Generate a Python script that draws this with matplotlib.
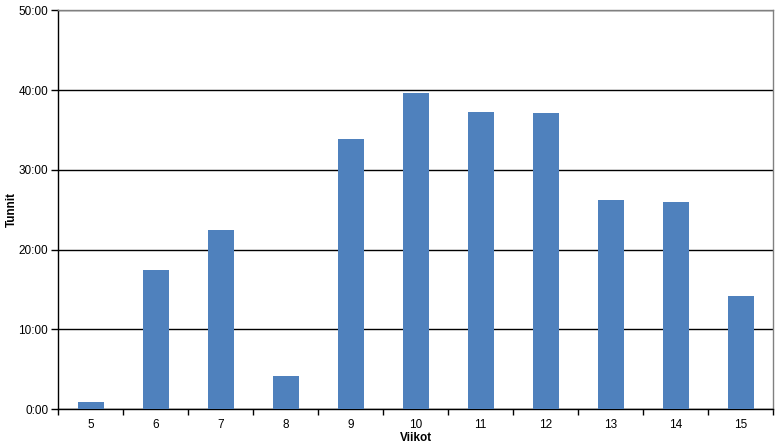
import matplotlib
matplotlib.use("Agg")
import matplotlib.pyplot as plt
from matplotlib.ticker import FuncFormatter, FixedLocator

weeks = ["5", "6", "7", "8", "9", "10", "11", "12", "13", "14", "15"]
hours = [0.88, 17.44, 22.46, 4.18, 33.88, 39.65, 37.26, 37.14, 26.22, 25.97, 14.18]
y_ticks = [0, 10, 20, 30, 40, 50]

plt.rcParams['font.family'] = ['Liberation Sans', 'DejaVu Sans']

fig = plt.figure(figsize=(7.77, 4.48), dpi=100)
ax = fig.add_axes([58/777, 1 - 409/448, (773 - 58)/777, (409 - 10.5)/448])

x = list(range(len(weeks)))
ax.bar(x, hours, width=0.4, color='#4F81BD', zorder=3)

ax.set_xlim(-0.5, len(weeks) - 0.5)
ax.set_ylim(0, 50)

ax.set_yticks(y_ticks)
ax.yaxis.set_major_formatter(FuncFormatter(lambda v, p: f"{int(v)}:00"))
ax.grid(axis='y', color='black', linewidth=1, zorder=1)

ax.set_xticks(x)
ax.set_xticklabels(weeks)
ax.xaxis.set_minor_locator(FixedLocator([i - 0.5 for i in range(len(weeks) + 1)]))
ax.tick_params(axis='x', which='major', length=0, labelsize=8.5, pad=7)
ax.tick_params(axis='x', which='minor', length=4, width=1, color='black')
ax.tick_params(axis='y', length=5, width=1, labelsize=8.5, pad=2)

for s in ['left', 'bottom']:
    ax.spines[s].set_color('black')
    ax.spines[s].set_linewidth(1)
for s in ['top', 'right']:
    ax.spines[s].set_color('#808080')
    ax.spines[s].set_linewidth(1)

ax.set_xlabel("Viikot", fontsize=8.5, fontweight='bold', labelpad=1)
ax.set_ylabel("Tunnit", fontsize=8.5, fontweight='bold')
ax.yaxis.set_label_coords((18 - 58) / 715, 0.5)

fig.savefig("out.png", dpi=100)
